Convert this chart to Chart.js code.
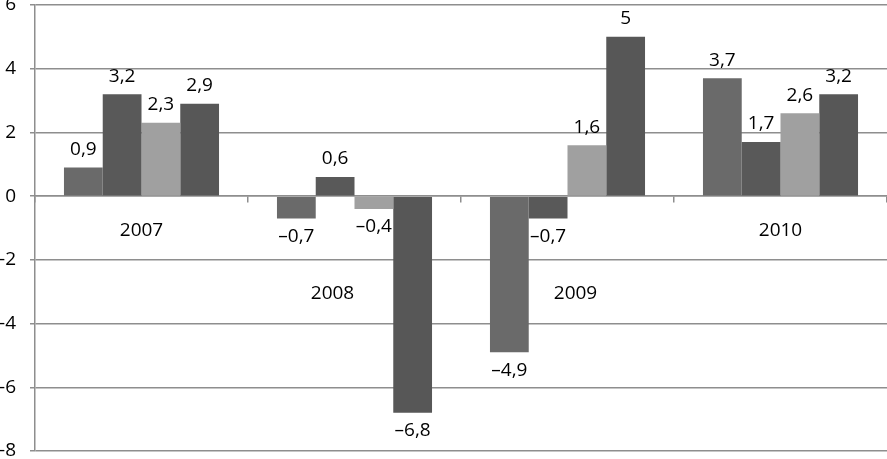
<!DOCTYPE html>
<html>
<head>
<meta charset="utf-8">
<script src="https://cdn.jsdelivr.net/npm/chart.js@4/dist/chart.umd.min.js"></script>
<style>
  html, body { margin: 0; padding: 0; background: #fff; }
  #wrap { position: relative; width: 887px; height: 459px; }
</style>
</head>
<body>
<div id="wrap"><canvas id="chart"></canvas></div>
<script>
// years on the category axis
const years = ['2007', '2008', '2009', '2010'];

// four series per year
const series1 = [0.9, -0.7, -4.9, 3.7];
const series2 = [3.2, 0.6, -0.7, 1.7];
const series3 = [2.3, -0.4, 1.6, 2.6];
const series4 = [2.9, -6.8, 5, 3.2];

// y axis ticks
const yTicks = [6, 4, 2, 0, -2, -4, -6, -8];

const gridGray = '#8e8e8e';
const textFont = { family: 'Open Sans', size: 19 };

//Formats a number the way the labels do: comma decimal, en dash minus
function fmt(v) {
  return String(v).replace('.', ',').replace('-', '\u2013');
}

//Draws the value label above / below each bar
const valueLabels = {
  id: 'valueLabels',
  afterDatasetsDraw(chart) {
    const ctx = chart.ctx;
    ctx.save();
    ctx.font = textFont.size + 'px "' + textFont.family + '"';
    ctx.fillStyle = '#000';
    ctx.textAlign = 'center';
    ctx.textBaseline = 'middle';
    chart.data.datasets.forEach((ds, i) => {
      chart.getDatasetMeta(i).data.forEach((bar, j) => {
        const v = ds.data[j];
        const y = v >= 0 ? bar.y - 18 : bar.y + 18;
        ctx.fillText(fmt(v), bar.x, y);
      });
    });
    ctx.restore();
  }
};

//Draws the year names inside the plot, where the original put them
const yearLabels = {
  id: 'yearLabels',
  afterDatasetsDraw(chart) {
    const ctx = chart.ctx;
    const xs = chart.scales.x, ys = chart.scales.y;
    const dx = [0, -22, 8, 0];
    const atValue = [-1.07, -3.07, -3.07, -1.07];
    ctx.save();
    ctx.font = textFont.size + 'px "' + textFont.family + '"';
    ctx.fillStyle = '#000';
    ctx.textAlign = 'center';
    ctx.textBaseline = 'middle';
    years.forEach((yr, i) => {
      ctx.fillText(yr, xs.getPixelForValue(i) + dx[i], ys.getPixelForValue(atValue[i]));
    });
    ctx.restore();
  }
};

const barColors = ['#6a6a6a', '#595959', '#a0a0a0', '#575757'];

new Chart(document.getElementById('chart'), {
  type: 'bar',
  data: {
    labels: years,
    datasets: [series1, series2, series3, series4].map((d, i) => ({
      label: 'Series ' + (i + 1),
      data: d,
      backgroundColor: barColors[i],
      borderWidth: 0,
      barPercentage: 1,
      categoryPercentage: 0.728
    }))
  },
  options: {
    responsive: true,
    maintainAspectRatio: false,
    animation: false,
    layout: { padding: { top: 5, bottom: 8, left: 0, right: 0 } },
    plugins: {
      legend: { display: false },
      tooltip: { enabled: false }
    },
    scales: {
      x: {
        position: { y: 0 },
        offset: true,
        ticks: { display: false },
        grid: { drawOnChartArea: false, drawTicks: true, tickLength: 6, color: gridGray, lineWidth: 1.5 },
        border: { display: true, color: gridGray, width: 1.5 }
      },
      y: {
        min: -8,
        max: 6,
        afterBuildTicks(scale) {
          scale.ticks = yTicks.map(v => ({ value: v }));
        },
        afterFit(scale) {
          scale.width = 35;
          scale.paddingTop = 0;
          scale.paddingBottom = 0;
        },
        ticks: {
          color: '#000',
          font: textFont,
          padding: 14
        },
        grid: { color: gridGray, lineWidth: 1.5, tickLength: 5 },
        border: { display: true, color: gridGray, width: 1.5 }
      }
    }
  },
  plugins: [valueLabels, yearLabels]
});
</script>
</body>
</html>
